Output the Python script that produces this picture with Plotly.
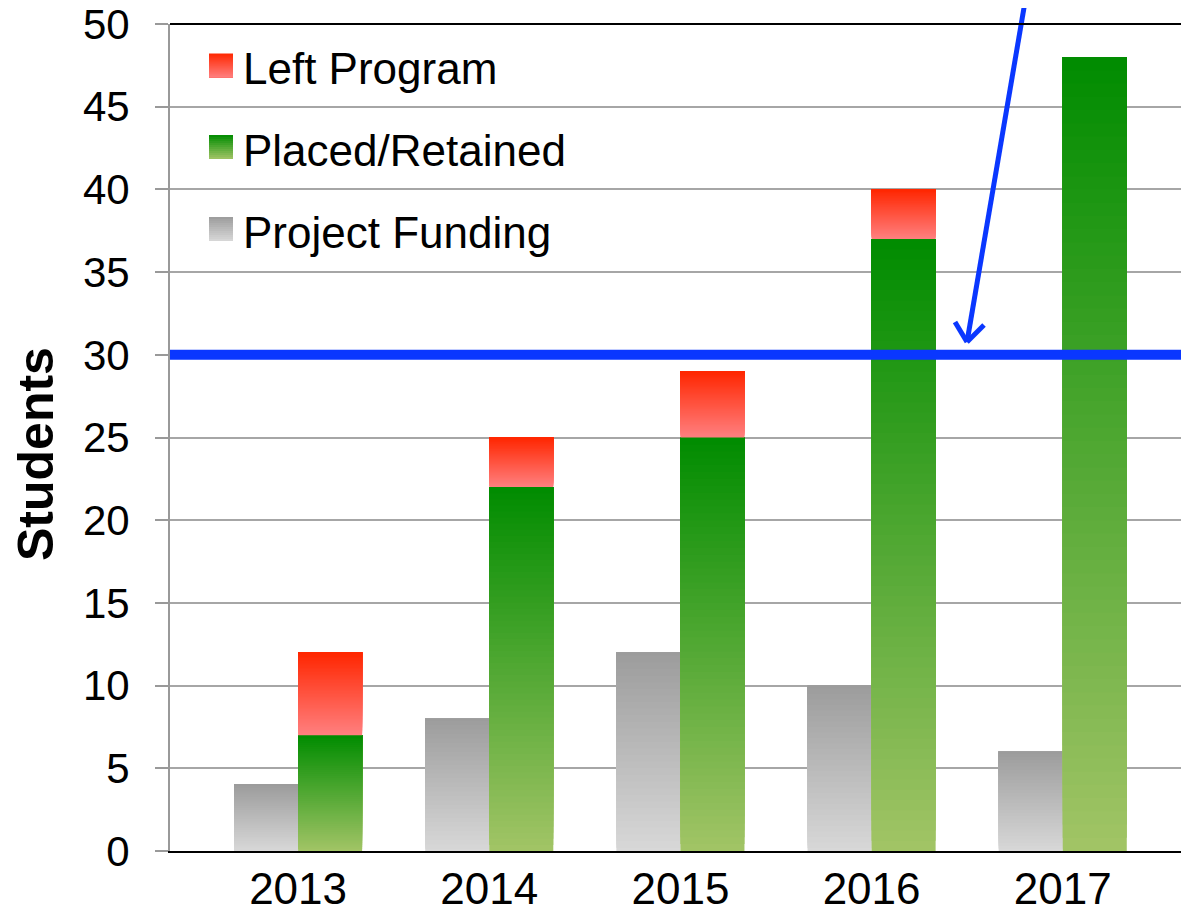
import plotly.graph_objects as go

# ---------------- data ----------------
years = ["2013", "2014", "2015", "2016", "2017"]
project_funding = [4, 8, 12, 10, 6]
placed_retained = [7, 22, 25, 37, 48]
left_program = [5, 3, 4, 3, 0]
target = 30
series_names = ["Left Program", "Placed/Retained", "Project Funding"]
y_title = "Students"

# ---------------- layout geometry (page pixels) ----------------
OFF = 8                      # default page body margin
W, H = 1189 - OFF, 913 - OFF
PL, PR, PT, PB = 170, 1187, 24, 851   # plot area in page pixels
PW, PH = PR - PL, PB - PT
FONT = "Liberation Sans, Arial, sans-serif"


def px(x):
    return (x - PL) / PW


def py(y):
    return (PB - y) / PH


def lerp(c1, c2, t):
    return "rgb(%d,%d,%d)" % tuple(round(a + (b - a) * t) for a, b in zip(c1, c2))


N = 60
GRAY = ((216, 216, 216), (156, 156, 156))     # bottom, top
GREEN = ((162, 196, 102), (0, 140, 0))
RED = ((255, 128, 128), (255, 38, 0))

fig = go.Figure()


def add_series(vals, base, cols, group, name):
    # overlapping layers: each layer runs from its start to the top of the bar
    for i in range(N):
        t = (i + 0.5) / N
        c = lerp(cols[0], cols[1], t)
        ys = [v * (N - i) / N if v > 0 else None for v in vals]
        bs = [b + v * i / N for v, b in zip(vals, base)]
        fig.add_trace(go.Bar(
            x=years, y=ys, base=bs, offsetgroup=group, name=name,
            legendgroup=name, showlegend=False, hoverinfo="skip",
            marker=dict(color=c, line=dict(width=0)),
        ))


add_series(project_funding, [0] * len(years), GRAY, "a", series_names[2])
add_series(placed_retained, [0] * len(years), GREEN, "b", series_names[1])
add_series(left_program, placed_retained, RED, "b", series_names[0])

shapes = []
annotations = []

# custom legend with gradient squares
legend_rows = [(series_names[0], RED, 65.5), (series_names[1], GREEN, 147), (series_names[2], GRAY, 229)]
for name, cols, cy in legend_rows:
    steps = 12
    top = cy - 12
    for k in range(steps):
        y0 = top + 24 * k / steps
        c = lerp(cols[1], cols[0], (k + 0.5) / steps)
        shapes.append(dict(type="rect", xref="paper", yref="paper",
                           x0=px(209), x1=px(233), y0=py(top + 24), y1=py(y0),
                           fillcolor=c, line=dict(width=0), layer="above"))
    annotations.append(dict(xref="paper", yref="paper", x=px(241), y=py(cy + 3),
                            xanchor="left", yanchor="middle", text=name, showarrow=False,
                            font=dict(family=FONT, size=44, color="black")))

# y-axis title
annotations.append(dict(xref="paper", yref="paper", x=px(36), y=py(454),
                        xanchor="center", yanchor="middle", textangle=-90,
                        text="<b>" + y_title + "</b>", showarrow=False,
                        font=dict(family=FONT, size=50, color="black")))

# target line
shapes.append(dict(type="line", xref="paper", yref="y", x0=0, x1=1.01, y0=target, y1=target,
                   line=dict(color="#0a37ff", width=10), layer="above"))
# arrow pointing to target line
tip = (967, 342)
for sx, sy in [(1026, -4), (955, 322), (984, 325)]:
    shapes.append(dict(type="line", xref="paper", yref="paper",
                       x0=px(sx), y0=py(sy), x1=px(tip[0]), y1=py(tip[1]),
                       line=dict(color="#0a37ff", width=5), layer="above"))
# frame top and right
shapes.append(dict(type="line", xref="paper", yref="paper", x0=0, x1=1, y0=1, y1=1,
                   line=dict(color="black", width=2), layer="above"))
shapes.append(dict(type="line", xref="paper", yref="paper", x0=1, x1=1, y0=0, y1=1,
                   line=dict(color="#dcdcdc", width=1), layer="above"))

fig.update_layout(
    width=W, height=H,
    margin=dict(l=PL - OFF, r=1189 - PR, t=PT - OFF, b=913 - PB, pad=0, autoexpand=False),
    paper_bgcolor="white", plot_bgcolor="white",
    barmode="group", bargap=0.33, bargroupgap=0,
    showlegend=False,
    font=dict(family=FONT, size=44, color="black"),
    shapes=shapes, annotations=annotations,
    xaxis=dict(type="category", range=[-0.67, 4.65], showgrid=False,
               showline=True, linecolor="black", linewidth=2,
               ticks="", ticklen=0, ticklabelstandoff=-2, automargin=False,
               ticklabeloverflow="allow",
               tickfont=dict(family=FONT, size=44, color="black"), fixedrange=True),
    yaxis=dict(range=[0, 50], dtick=5, showgrid=True, gridcolor="#a6a6a6", gridwidth=2,
               zeroline=False, showline=True, linecolor="#999999", linewidth=2,
               ticks="outside", ticklen=13, tickcolor="#999999", tickwidth=2,
               ticklabelstandoff=17, automargin=False, ticklabeloverflow="allow",
               tickfont=dict(family=FONT, size=42, color="black"),
               fixedrange=True),
)

fig.write_html("out.html")
